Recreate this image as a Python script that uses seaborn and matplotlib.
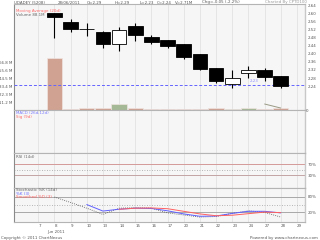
"""
UDADEY (5208) 일봉 차트 - 가격/거래량, MACD, RSI, Stochastic 패널
"""

import numpy as np
import pandas as pd
import matplotlib
matplotlib.use('Agg')
import matplotlib.pyplot as plt
import seaborn as sns

# x축 날짜 (2011년 6월)
dates = ['7', '8', '9', '10', '13', '14', '15', '16', '17', '20', '21', '22', '23', '24', '27', '28', '29']

# 거래일 인덱스 (8일 ~ 28일)
trade_idx = list(range(1, 16))
opens = [2.600, 2.556, 2.520, 2.507, 2.448, 2.537, 2.482, 2.468, 2.448, 2.399, 2.330, 2.251, 2.305, 2.320, 2.290]
highs = [2.600, 2.571, 2.551, 2.510, 2.532, 2.551, 2.490, 2.470, 2.450, 2.400, 2.330, 2.320, 2.340, 2.330, 2.290]
lows = [2.477, 2.507, 2.487, 2.428, 2.413, 2.463, 2.448, 2.428, 2.374, 2.320, 2.256, 2.231, 2.280, 2.266, 2.230]
closes = [2.582, 2.522, 2.524, 2.448, 2.517, 2.492, 2.458, 2.438, 2.384, 2.325, 2.266, 2.281, 2.320, 2.285, 2.240]
volume_m = [74.0, 1.5, 2.5, 3.5, 8.5, 2.5, 1.0, 1.5, 1.5, 1.5, 2.5, 2.0, 3.0, 1.0, 2.71]

# 거래량 보조선
vol_line_idx = [14, 15]
vol_line_m = [8.5, 2.8]

# 기준선 (파란 점선)
ref_price = 2.248

# Stochastic
fast_idx = list(range(1, 16))
stoch_fast = [79, 58, 36, 12, 36, 38, 36, 18, 10, 2, 4, 16, 26, 20, 2]
k_idx = list(range(3, 16))
stoch_k = [50, 25, 32, 36, 35, 26, 14, 5, 6, 16, 24, 24, 18]
d_idx = list(range(5, 16))
stoch_d = [32, 36, 37, 34, 24, 14, 7, 9, 15, 21, 19]

price_ticks = [2.24, 2.28, 2.32, 2.36, 2.40, 2.44, 2.48, 2.52, 2.56, 2.60, 2.64]
vol_tick_labels = ['11.2 M', '22.3 M', '33.4 M', '44.5 M', '55.6 M', '66.8 M']

sns.set_theme(style='white')
plt.rcParams['font.family'] = ['DejaVu Sans']

W, H = 320, 240
FS = 2.9
PANEL_BG = '#f6f6f6'
GRID = '#e2e2e2'
SEP = '#b4b4b4'
TXT = '#555555'

fig = plt.figure(figsize=(3.2, 2.4), dpi=100)
fig.patch.set_facecolor('white')


def px_axes(top, bottom, left=14, right=305):
    return fig.add_axes([left / W, 1 - bottom / H, (right - left) / W, (bottom - top) / H])


def ftext(x, y, s, **kw):
    kw.setdefault('fontsize', FS)
    kw.setdefault('color', TXT)
    fig.text(x / W, 1 - y / H, s, va='center', **kw)


def style_panel(ax):
    ax.set_facecolor(PANEL_BG)
    ax.set_xlim(-1.5, 16.5)
    ax.set_xticks(range(len(dates)))
    ax.xaxis.grid(True, color=GRID, lw=0.6)
    ax.yaxis.grid(False)
    ax.set_axisbelow(True)
    for side in ['top', 'bottom']:
        ax.spines[side].set_color(SEP)
        ax.spines[side].set_linewidth(0.8)
    ax.spines['left'].set_color('#8a8a8a')
    ax.spines['left'].set_linewidth(0.8)
    ax.spines['right'].set_color('#c8c8c8')
    ax.spines['right'].set_linewidth(1.0)
    ax.tick_params(axis='both', length=0, labelsize=FS, colors=TXT, pad=1)
    ax.set_xticklabels([])


# ========================================
# 1. 가격 + 거래량 패널
# ========================================
ax_v = px_axes(4, 110)
style_panel(ax_v)
ax_v.set_ylim(0, 150.5e6)
ax_v.set_yticks([11.13e6 * k for k in range(1, 7)])
ax_v.set_yticklabels(vol_tick_labels)

vol = np.array(volume_m) * 1e6
up = (np.array(closes) - np.array(opens)) > 0.01
vol_colors = np.where(up, '#a5b996', '#cfa292')
ax_v.bar(trade_idx, vol, width=0.95, color=vol_colors, edgecolor='#f0e4e0', linewidth=0.5)
sns.lineplot(x=vol_line_idx, y=np.array(vol_line_m) * 1e6, ax=ax_v, color='#9a9a86', lw=0.7)

ax_p = ax_v.twinx()
ax_p.set_ylim(2.123, 2.645)
ax_p.set_xlim(-1.5, 16.5)
ax_p.set_yticks(price_ticks)
ax_p.set_yticklabels([f'{p:.2f}' for p in price_ticks])
ax_p.tick_params(axis='y', length=0, labelsize=FS, colors=TXT, pad=2)
for s in ax_p.spines.values():
    s.set_visible(False)
ax_p.grid(False)

ax_p.axhline(ref_price, color='#6464ff', lw=0.7, ls=(0, (3, 2)))
ax_p.text(13.05, ref_price + 0.006, '2.23', fontsize=FS, color='#8c8cff', va='bottom')

o = np.array(opens)
c = np.array(closes)
ax_p.vlines(trade_idx, lows, highs, color='black', lw=0.8, zorder=2)
body_fill = np.where(c >= o, 'white', 'black')
ax_p.bar(trade_idx, np.maximum(np.abs(c - o), 0.002), bottom=np.minimum(o, c), width=0.9,
         color=body_fill, edgecolor='black', linewidth=0.6, zorder=3)

ax_p.text(-1.4, 2.61, 'Moving Average (20d)', fontsize=FS, color='#ff6a6a', va='center')
ax_p.text(-1.4, 2.59, 'Volume 88.1M', fontsize=FS, color='#666666', va='center')

# ========================================
# 2. MACD 패널
# ========================================
ax_m = px_axes(110, 153)
style_panel(ax_m)
ax_m.set_ylim(0, 1)
ax_m.set_yticks([])
ax_m.text(-1.4, 0.93, 'MACD (26d,12d)', fontsize=FS, color='#7a7aff', va='center')
ax_m.text(-1.4, 0.84, 'Sig (9d)', fontsize=FS, color='#ff6a6a', va='center')
ftext(306, 111, '0')

# ========================================
# 3. RSI 패널
# ========================================
ax_r = px_axes(153, 188)
style_panel(ax_r)
ax_r.set_ylim(-17, 110)
ax_r.axhline(70, color='#d49a9a', lw=0.7)
ax_r.axhline(50, color='#a0a0a0', lw=0.6, ls=(0, (1, 2)))
ax_r.axhline(30, color='#c4a4a4', lw=0.7)
ax_r.yaxis.tick_right()
ax_r.set_yticks([70, 30])
ax_r.set_yticklabels(['70%', '30%'])
ax_r.tick_params(axis='y', length=0, labelsize=FS, colors=TXT, pad=2)
ax_r.text(-1.4, 96, 'RSI (14d)', fontsize=FS, color='#666666', va='center')

# ========================================
# 4. Stochastic 패널
# ========================================
ax_s = px_axes(188, 222)
style_panel(ax_s)
ax_s.set_ylim(-17, 113.5)
ax_s.axhline(80, color='#a8a8a8', lw=0.7)
ax_s.axhline(50, color='#a0a0a0', lw=0.6, ls=(0, (1, 2)))
ax_s.axhline(20, color='#a8a8a8', lw=0.7)
sns.lineplot(x=fast_idx, y=stoch_fast, ax=ax_s, color='#555555', lw=0.6, ls=(0, (1, 1.5)))
sns.lineplot(x=k_idx, y=stoch_k, ax=ax_s, color='#6060ff', lw=0.7)
sns.lineplot(x=d_idx, y=stoch_d, ax=ax_s, color='#ff6060', lw=0.7)
ax_s.set_ylabel('')
ax_s.yaxis.tick_right()
ax_s.set_yticks([80, 20])
ax_s.set_yticklabels(['80%', '20%'])
ax_s.tick_params(axis='y', length=0, labelsize=FS, colors=TXT, pad=2)
ax_s.text(-1.4, 104, 'Stochastic %K (14d)', fontsize=FS, color='#666666', va='center')
ax_s.text(-1.4, 91, '%K (3)', fontsize=FS, color='#6060ff', va='center')
ax_s.text(-1.4, 78, 'Smoothed %D (3)', fontsize=FS, color='#ff6060', va='center')

ax_s.set_xticklabels(dates, ha='left')
ax_s.tick_params(axis='x', length=1.5, width=0.5, color='#888888', labelsize=FS, colors=TXT, pad=0.2)
for lab in ax_s.get_xticklabels():
    lab.set_color(TXT)

# ========================================
# 5. 제목 / 하단 문구
# ========================================
ftext(14, 2.5, 'UDADEY (5208)')
ftext(58, 2.5, '28/06/2011')
ftext(87, 2.5, 'O=2.29')
ftext(115, 2.5, 'H=2.29')
ftext(140, 2.5, 'L=2.23')
ftext(157, 2.5, 'C=2.24')
ftext(175, 2.5, 'V=2.71M')
ftext(202, 2.5, 'Chg=-0.05 (-2.2%)')
ftext(265, 2.5, 'Charted By CPTD100', color='#999999')
ftext(56, 231.5, 'Jun 2011', ha='center')
ftext(1, 237.8, 'Copyright © 2011 ChartNexus')
ftext(318, 237.8, 'Powered by www.chartnexus.com', ha='right')

plt.savefig('out.png', dpi=100, facecolor='white')
plt.close()
